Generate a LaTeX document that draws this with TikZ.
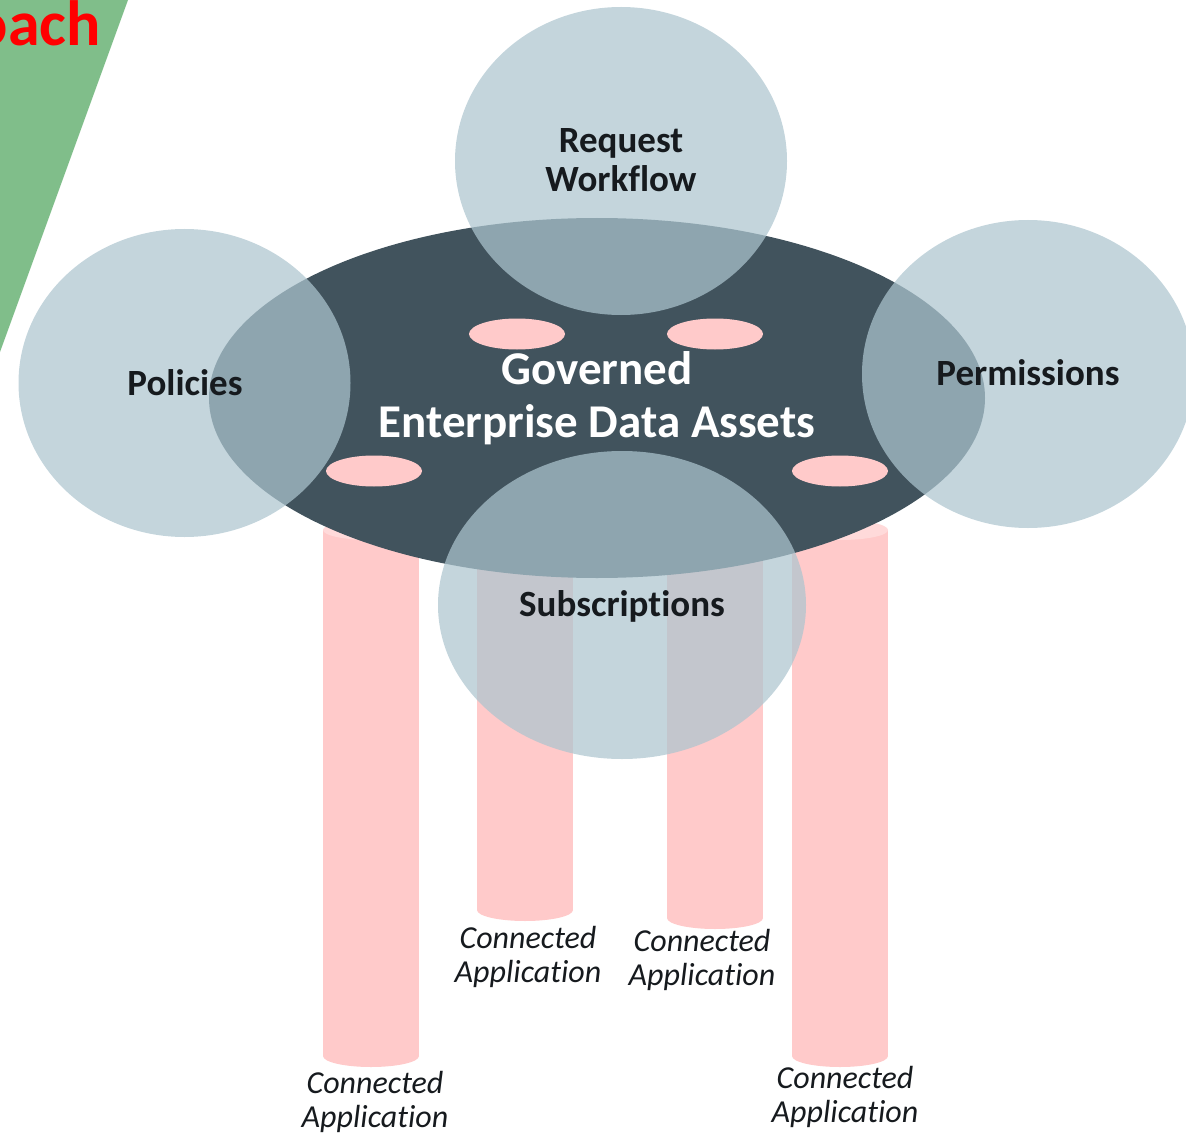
\documentclass[tikz,border=0pt]{standalone}
\usepackage{fontspec}
\setmainfont{Carlito}[Ligatures=NoCommon]
\usetikzlibrary{shapes.geometric}
\definecolor{darkslate}{RGB}{65,83,93}
\definecolor{bubble}{RGB}{173,197,207}
\definecolor{pillar}{RGB}{255,202,202}
\definecolor{pillartop}{RGB}{255,218,218}
\definecolor{greenband}{RGB}{128,190,138}
\definecolor{ink}{RGB}{22,26,30}
\begin{document}
\begin{tikzpicture}[x=1pt,y=-1pt,
  bubblestyle/.style={fill=bubble,fill opacity=0.72,draw=none},
  pillarstyle/.style={fill=pillar,draw=none},
  holestyle/.style={fill=pillar,draw=none},
  labelbig/.style={font=\bfseries\fontsize{37}{39}\selectfont,text=ink,align=center,inner sep=0},
  applabel/.style={font=\itshape\fontsize{32}{34}\selectfont,text=ink,align=center,inner sep=0}]
\useasboundingbox (0,0) rectangle (1186,1134);
\clip (0,0) rectangle (1186,1134);
% green band and title fragment
\fill[greenband] (-20,0) -- (128,0) -- (0,352) -- (-20,352) -- cycle;
\node[anchor=base east,inner sep=0,text=red,font=\bfseries\fontsize{64}{70}\selectfont] (title) at (101,46) {Approach};
% pillars
\foreach \cx/\top/\bot/\nm in {371/530/1056/pa,525/530/910/pb,715/530/918/pc,840/530/1056/pd}{
  \fill[pillarstyle] (\cx-48,\top) rectangle (\cx+48,\bot);
  \fill[pillarstyle] (\cx-48,\bot) arc[start angle=180,end angle=0,x radius=48,y radius=11] -- cycle;
  \fill[pillartop] (\cx,\top) ellipse[x radius=48,y radius=10];
  \coordinate (\nm) at (\cx,\bot);
}
% main ellipse
\node[ellipse,fill=darkslate,minimum width=776pt,minimum height=360pt,inner sep=0pt,draw=none] (core) at (597,398) {};
% holes (pillar tops)
\fill[holestyle] (517,334) ellipse[x radius=48,y radius=15.5];
\fill[holestyle] (715,334) ellipse[x radius=48,y radius=15.5];
\fill[holestyle] (374,471) ellipse[x radius=48,y radius=15.5];
\fill[holestyle] (840,471) ellipse[x radius=48,y radius=15.5];
% bubbles
\fill[bubblestyle] (621,161) ellipse[x radius=166,y radius=154];
\fill[bubblestyle] (184.5,383) ellipse[x radius=166,y radius=154];
\fill[bubblestyle] (1028,374) ellipse[x radius=166,y radius=154];
\fill[bubblestyle] (622,605) ellipse[x radius=184,y radius=154];
% labels
\node[labelbig] (req) at (621,160.5) {Request\\Workflow};
\node[labelbig] (pol) at (185,383) {Policies};
\node[labelbig] (perm) at (1028,373) {Permissions};
\node[labelbig] (sub) at (622,606) {Subscriptions};
\node[font=\bfseries\fontsize{47}{53}\selectfont,text=white,align=center,inner sep=0] (gov) at (597,398) {Governed\\Enterprise Data Assets};
\node[applabel] (la) at (375,1101.5) {Connected\\Application};
\node[applabel] (lb) at (528,956.5) {Connected\\Application};
\node[applabel] (lc) at (702,959.5) {Connected\\Application};
\node[applabel] (ld) at (845,1096.5) {Connected\\Application};
\end{tikzpicture}
\end{document}
